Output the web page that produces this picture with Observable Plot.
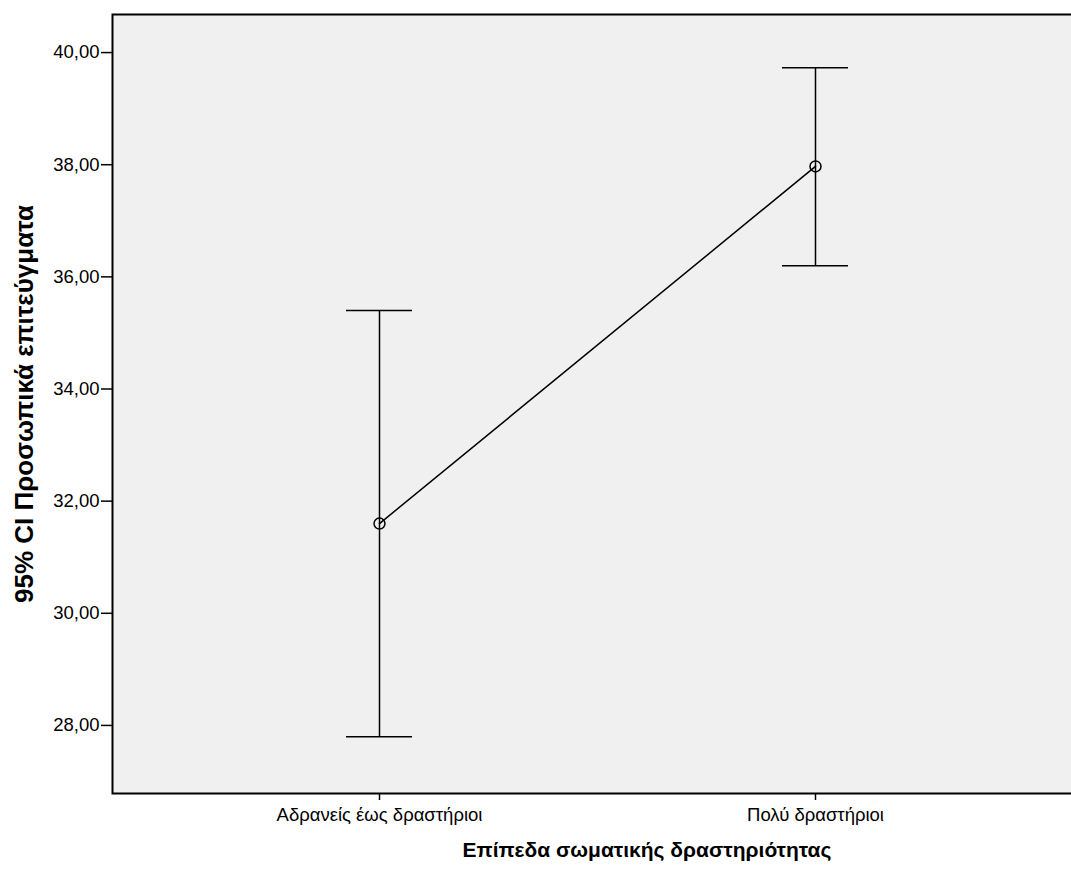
<!DOCTYPE html>
<html>
<head>
<meta charset="utf-8">
<script src="https://cdn.jsdelivr.net/npm/d3@7"></script>
<script src="https://cdn.jsdelivr.net/npm/@observablehq/plot@0.6"></script>
<style>
  html, body { margin: 0; padding: 0; background: white; overflow: hidden; }
  #chart svg { display: block; }
</style>
</head>
<body>
<div id="chart"></div>
<script>
const categories = ["Αδρανείς έως δραστήριοι", "Πολύ δραστήριοι"];
const means = [31.6, 37.97];
const lower = [27.8, 36.2];
const upper = [35.4, 39.73];
const yTicks = [28, 30, 32, 34, 36, 38, 40];
const xTitle = "Επίπεδα σωματικής δραστηριότητας";
const yTitle = "95% CI Προσωπικά επιτεύγματα";

const data = categories.map((c, i) => ({cat: c, mean: means[i], lo: lower[i], hi: upper[i]}));

const chart = Plot.plot({
  width: 1071,
  height: 873,
  marginLeft: 112,
  marginTop: 14,
  marginRight: -10,
  marginBottom: 80,
  style: {fontFamily: "'Liberation Sans', Arial, sans-serif", color: "black", background: "white"},
  x: {type: "point", domain: categories, padding: 0.609, label: null},
  y: {domain: [26.786, 40.679], label: null},
  marks: [
    Plot.frame({fill: "#f0f0f0", stroke: "black", strokeWidth: 2}),
    Plot.axisY({ticks: yTicks, tickFormat: d => d.toFixed(2).replace(".", ","), tickSize: 11, tickPadding: 2, fontSize: 18.5, strokeWidth: 1.5, label: null}),
    Plot.axisX({tickSize: 7, tickPadding: 7, fontSize: 18.5, strokeWidth: 1.5, label: null}),
    Plot.ruleX(data, {x: "cat", y1: "lo", y2: "hi", stroke: "black", strokeWidth: 1.5}),
    Plot.ruleY(data, {x1: "cat", x2: "cat", y: "lo", insetLeft: -33, insetRight: -33, stroke: "black", strokeWidth: 1.5}),
    Plot.ruleY(data, {x1: "cat", x2: "cat", y: "hi", insetLeft: -33, insetRight: -33, stroke: "black", strokeWidth: 1.5}),
    Plot.line(data, {x: "cat", y: "mean", stroke: "black", strokeWidth: 1.5}),
    Plot.dot(data, {x: "cat", y: "mean", r: 5.5, stroke: "black", fill: "none", strokeWidth: 1.5}),
    Plot.text([yTitle], {frameAnchor: "left", dx: -88, rotate: -90, textAnchor: "middle", lineAnchor: "middle", fontSize: 26, fontWeight: "bold", fill: "black"}),
    Plot.text([xTitle], {frameAnchor: "bottom", dx: 50, dy: 57, textAnchor: "middle", lineAnchor: "middle", fontSize: 21, fontWeight: "bold", fill: "black"})
  ]
});
document.getElementById("chart").appendChild(chart);
</script>
</body>
</html>
